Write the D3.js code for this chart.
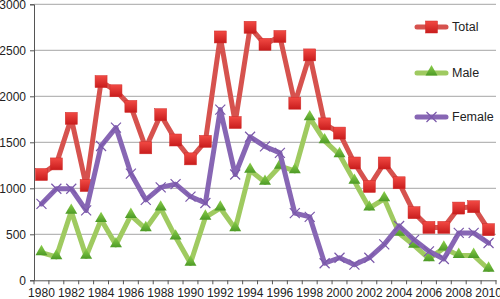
<!DOCTYPE html>
<html>
<head>
<meta charset="utf-8">
<script src="https://cdn.jsdelivr.net/npm/d3@7"></script>
<style>
  body { margin: 0; background: #fff; }
  svg text { font-family: "Liberation Sans", Arial, sans-serif; fill: #222; }
</style>
</head>
<body>
<div id="chart"></div>
<script>
// Data
const years = d3.range(1980, 2011);
const total = [1150, 1265, 1760, 1030, 2160, 2060, 1890, 1440, 1800, 1525, 1320, 1510, 2645, 1715, 2750,
               2565, 2650, 1925, 2450, 1700, 1600, 1275, 1020, 1275, 1060, 735, 575, 575, 785, 800, 550];
const male = [300, 255, 750, 260, 660, 385, 705, 560, 785, 470, 185, 685, 785, 560, 1195,
              1065, 1240, 1190, 1765, 1515, 1365, 1075, 785, 885, 510, 380, 235, 350, 270, 270, 120];
const female = [830, 995, 995, 760, 1460, 1660, 1160, 875, 1010, 1045, 910, 840, 1855, 1150, 1560,
                1455, 1385, 730, 690, 185, 245, 170, 245, 390, 590, 440, 315, 232, 515, 515, 405];
const yTicks = [0, 500, 1000, 1500, 2000, 2500, 3000];

const series = [
  { name: "Total", values: total, line: "#d6524e", mark: "square", c1: "#f24a44", c2: "#c81c1c" },
  { name: "Male", values: male, line: "#9fca60", mark: "triangle", c1: "#8ed04c", c2: "#4c9a26" },
  { name: "Female", values: female, line: "#8766b4", mark: "x", c1: "#9a7cc8", c2: "#7a58aa" }
];

const W = 500, H = 299;
const plotLeft = 34, plotRight = 496, plotTop = 4.3, plotBottom = 280.3;

const svg = d3.select("#chart").append("svg")
    .attr("width", W)
    .attr("height", H);

const defs = svg.append("defs");
series.forEach((s, i) => {
  const g = defs.append("linearGradient")
      .attr("id", "grad" + i)
      .attr("x1", 0).attr("y1", 0).attr("x2", 0).attr("y2", 1);
  g.append("stop").attr("offset", "0%").attr("stop-color", s.c1);
  g.append("stop").attr("offset", "100%").attr("stop-color", s.c2);
});

const x = d3.scaleBand()
    .domain(years)
    .range([plotLeft, plotRight]);

const y = d3.scaleLinear()
    .domain([0, 3000])
    .range([plotBottom, plotTop]);

const cx = d => x(d) + x.bandwidth() / 2;

// Gridlines
svg.append("g")
    .selectAll("line")
    .data(yTicks.filter(t => t > 0))
    .enter().append("line")
    .attr("x1", plotLeft)
    .attr("x2", plotRight)
    .attr("y1", d => y(d))
    .attr("y2", d => y(d))
    .attr("stroke", "#a6a6a6")
    .attr("stroke-width", 1);

// Y axis
const yAxis = svg.append("g")
    .attr("transform", `translate(${plotLeft},0)`)
    .call(d3.axisLeft(y).tickValues(yTicks).tickFormat(d3.format("d")).tickSize(4).tickPadding(4));
yAxis.select(".domain").attr("stroke", "#555");
yAxis.selectAll(".tick line").attr("stroke", "#555");
yAxis.selectAll("text").style("font-size", "12px").attr("fill", "#222");

// X axis
const xAxis = svg.append("g")
    .attr("transform", `translate(0,${plotBottom})`)
    .call(d3.axisBottom(x)
        .tickValues(years.filter(d => d % 2 === 0))
        .tickSize(0)
        .tickPadding(8));
xAxis.select(".domain").attr("stroke", "#555");
xAxis.selectAll("text").style("font-size", "12px").attr("fill", "#222");

// category boundary ticks
svg.append("g")
    .selectAll("line")
    .data(years.concat([null]))
    .enter().append("line")
    .attr("x1", d => d === null ? plotRight : x(d))
    .attr("x2", d => d === null ? plotRight : x(d))
    .attr("y1", plotBottom)
    .attr("y2", plotBottom + 4)
    .attr("stroke", "#555");

const line = d3.line()
    .x((d, i) => cx(years[i]))
    .y(d => y(d));

const tri = d3.symbol().type(d3.symbolTriangle).size(62);

function drawMarker(g, s, i, px, py) {
  if (s.mark === "square") {
    g.append("rect")
        .attr("x", px - 6).attr("y", py - 6)
        .attr("width", 12).attr("height", 12)
        .attr("fill", `url(#grad${i})`)
        .attr("stroke", "#d02a28").attr("stroke-width", 0.5);
  } else if (s.mark === "triangle") {
    g.append("path")
        .attr("d", tri())
        .attr("transform", `translate(${px},${py - 1})`)
        .attr("fill", `url(#grad${i})`);
  } else {
    g.append("path")
        .attr("d", `M${px - 5},${py - 5}L${px + 5},${py + 5}M${px - 5},${py + 5}L${px + 5},${py - 5}`)
        .attr("stroke", s.c2)
        .attr("stroke-width", 1.2)
        .attr("fill", "none");
  }
}

series.forEach((s, i) => {
  const g = svg.append("g");
  g.append("path")
      .datum(s.values)
      .attr("d", line)
      .attr("fill", "none")
      .attr("stroke", s.line)
      .attr("stroke-width", 5)
      .attr("stroke-linejoin", "round")
      .attr("stroke-linecap", "round");
  s.values.forEach((v, j) => drawMarker(g, s, i, cx(years[j]), y(v)));
});

// Legend
const legendY = [27, 73, 117];
series.forEach((s, i) => {
  const g = svg.append("g");
  g.append("line")
      .attr("x1", 417).attr("x2", 446)
      .attr("y1", legendY[i]).attr("y2", legendY[i])
      .attr("stroke", s.line)
      .attr("stroke-width", 5)
      .attr("stroke-linecap", "round");
  drawMarker(g, s, i, 431.5, legendY[i]);
  g.append("text")
      .attr("x", 452)
      .attr("y", legendY[i])
      .attr("dy", "0.35em")
      .style("font-size", "12.5px")
      .text(s.name);
});
</script>
</body>
</html>
